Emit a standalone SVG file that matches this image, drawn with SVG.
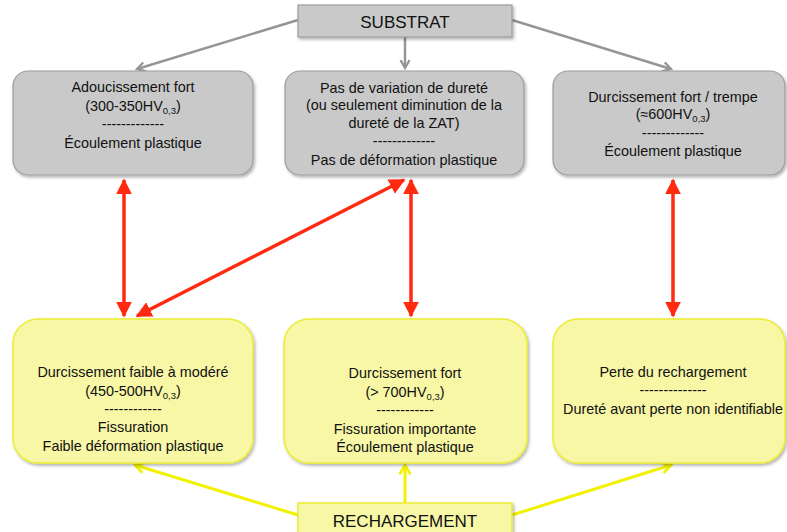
<svg xmlns="http://www.w3.org/2000/svg" width="787" height="532" viewBox="0 0 787 532">
<style>
text{font-family:"Liberation Sans",Arial,sans-serif;font-size:14.4px;fill:#111;text-anchor:middle}
.big{font-size:17px}
.sub{font-size:9.5px}
.gbox{fill:#c9c9c9;stroke:#9c9c9c;stroke-width:1.2}
.ybox{fill:#f7f7a6;stroke:#ecec30;stroke-width:1.5}
.garr{stroke:#969696;stroke-width:2.5;fill:none;marker-end:url(#gh)}
.rarr{stroke:#ff2a10;stroke-width:3.5;fill:none;marker-start:url(#rh);marker-end:url(#rh)}
.yarr{stroke:#f2f200;stroke-width:3;fill:none;marker-end:url(#yh)}
</style>
<defs>
<filter id="sh" x="-10%" y="-10%" width="130%" height="130%">
<feDropShadow dx="1.5" dy="2" stdDeviation="1.5" flood-color="#000" flood-opacity="0.3"/>
</filter>
<marker id="gh" viewBox="0 0 10 10" refX="8" refY="5" markerWidth="4.5" markerHeight="4.5" orient="auto" markerUnits="strokeWidth">
<path d="M1,1 L8,5 L1,9" fill="none" stroke="#969696" stroke-width="2"/>
</marker>
<marker id="yh" viewBox="0 0 10 10" refX="8" refY="5" markerWidth="4.5" markerHeight="4.5" orient="auto" markerUnits="strokeWidth">
<path d="M1,1 L8,5 L1,9" fill="none" stroke="#f2f200" stroke-width="2"/>
</marker>
<marker id="rh" viewBox="0 0 10 10" refX="9" refY="5" markerWidth="4.6" markerHeight="4.6" orient="auto-start-reverse" markerUnits="strokeWidth">
<path d="M0,0 L10,5 L0,10 Z" fill="#ff2a10"/>
</marker>
</defs>

<g id="connectors">
<path class="garr" d="M298,20 L137,69"/>
<path class="garr" d="M405,37 L405,68"/>
<path class="garr" d="M512,20 L671,69"/>
<path class="rarr" d="M124,180 L124,316"/>
<path class="rarr" d="M404,180 L137,316"/>
<path class="rarr" d="M411,180 L411,316"/>
<path class="rarr" d="M673,180 L673,316"/>
<path class="yarr" d="M298,515 L135,465"/>
<path class="yarr" d="M405,503 L405,465"/>
<path class="yarr" d="M512,515 L671,465"/>
</g>

<g id="substrat">
<rect class="gbox" x="298" y="5" width="214" height="32" filter="url(#sh)"/>
<text class="big" x="405" y="28">SUBSTRAT</text>
</g>

<g id="adoucissement">
<rect class="gbox" x="13" y="71" width="240" height="104" rx="15" filter="url(#sh)"/>
<text x="133" y="92">Adoucissement fort</text>
<text x="133" y="111">(300-350HV<tspan class="sub" dy="2.5">0,3</tspan><tspan dy="-2.5">)</tspan></text>
<text x="133" y="129">-------------</text>
<text x="133" y="148">Écoulement plastique</text>
</g>

<g id="pas-variation">
<rect class="gbox" x="285" y="71" width="239" height="104" rx="15" filter="url(#sh)"/>
<text x="404" y="93">Pas de variation de dureté</text>
<text x="404" y="110">(ou seulement diminution de la</text>
<text x="404" y="128">dureté de la ZAT)</text>
<text x="404" y="146">-------------</text>
<text x="404" y="165">Pas de déformation plastique</text>
</g>

<g id="durcissement-trempe">
<rect class="gbox" x="553" y="71" width="232" height="104" rx="15" filter="url(#sh)"/>
<text x="673" y="102">Durcissement fort / trempe</text>
<text x="673" y="119">(≈600HV<tspan class="sub" dy="2.5">0,3</tspan><tspan dy="-2.5">)</tspan></text>
<text x="673" y="138">-------------</text>
<text x="673" y="156">Écoulement plastique</text>
</g>

<g id="durcissement-faible">
<rect class="ybox" x="13" y="319" width="240" height="144" rx="25" filter="url(#sh)"/>
<text x="133" y="377">Durcissement faible à modéré</text>
<text x="133" y="396">(450-500HV<tspan class="sub" dy="2.5">0,3</tspan><tspan dy="-2.5">)</tspan></text>
<text x="133" y="414">------------</text>
<text x="133" y="432">Fissuration</text>
<text x="133" y="451">Faible déformation plastique</text>
</g>

<g id="durcissement-fort">
<rect class="ybox" x="284" y="319" width="243" height="144" rx="25" filter="url(#sh)"/>
<text x="405" y="378">Durcissement fort</text>
<text x="405" y="397">(&gt; 700HV<tspan class="sub" dy="2.5">0,3</tspan><tspan dy="-2.5">)</tspan></text>
<text x="405" y="415">------------</text>
<text x="405" y="434">Fissuration importante</text>
<text x="405" y="452">Écoulement plastique</text>
</g>

<g id="perte">
<rect class="ybox" x="553" y="319" width="232" height="144" rx="25" filter="url(#sh)"/>
<text x="673" y="377">Perte du rechargement</text>
<text x="673" y="395">--------------</text>
<text x="673" y="414">Dureté avant perte non identifiable</text>
</g>

<g id="rechargement">
<rect class="ybox" x="298" y="503" width="214" height="34" filter="url(#sh)"/>
<text class="big" x="405" y="527">RECHARGEMENT</text>
</g>
</svg>
